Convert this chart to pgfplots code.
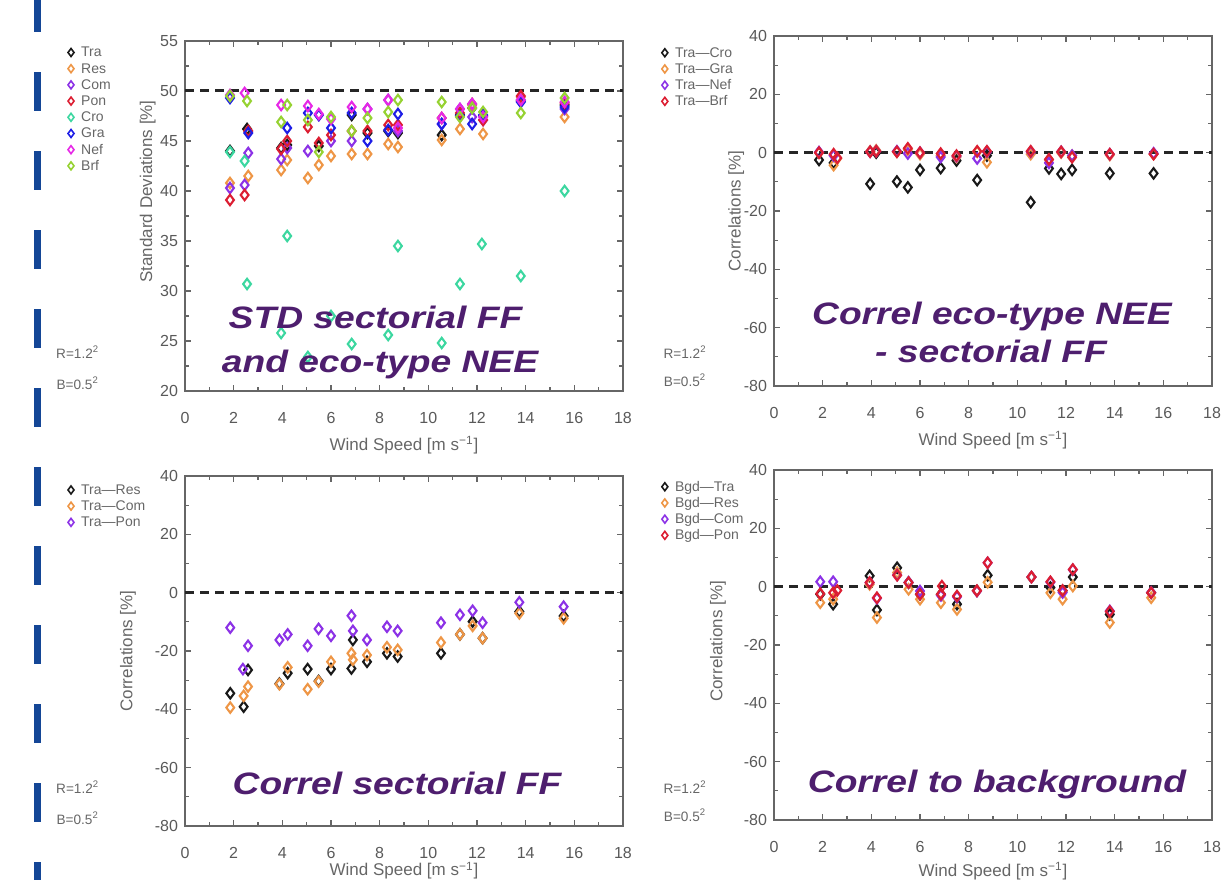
\documentclass[border=0pt]{standalone}
\usepackage{fontspec}
\setmainfont{Liberation Sans}
\usepackage{pgfplots}
\pgfplotsset{compat=1.18}
\definecolor{cTra}{RGB}{25,25,25}
\definecolor{cRes}{RGB}{238,150,70}
\definecolor{cCom}{RGB}{140,50,230}
\definecolor{cPon}{RGB}{220,30,50}
\definecolor{cCro}{RGB}{60,215,160}
\definecolor{cGra}{RGB}{30,30,230}
\definecolor{cNef}{RGB}{230,40,230}
\definecolor{cBrf}{RGB}{150,210,50}
\definecolor{ovl}{RGB}{78,30,110}
\definecolor{barblue}{RGB}{20,70,150}
\tikzset{rb/.style={font=\fontsize{6.8}{7}\selectfont, text=black!60},
  ovcap/.style={anchor=base, font=\fontsize{15.5}{16}\selectfont\bfseries\itshape, text=ovl, xscale=1.2, inner sep=0pt}}
\pgfplotsset{
  panel/.style={
    scale only axis, width=219pt, height=175pt, anchor=south west, clip=false,
    xmin=0, xmax=18, xtick={0,2,...,18}, minor x tick num=1, minor y tick num=1,
    tick align=inside, tick pos=both,
    axis line style={draw=black!60, line width=0.7pt},
    every tick/.style={black!60, line width=0.6pt},
    major tick length=3pt, minor tick length=1.8pt,
    tick label style={font=\fontsize{8}{9}\selectfont, text=black!65},
    /pgf/number format/assume math mode=true,
    xticklabel style={yshift=-7pt},
    label style={font=\fontsize{8.5}{9}\selectfont, text=black!60},
    xlabel={Wind Speed [m s\textsuperscript{−1}]},
    xlabel style={at={(axis description cs:0.5,-0.155)}, anchor=center},
    legend style={draw=none, fill=none, font=\fontsize{7}{8}\selectfont, text=black!60, anchor=north west, row sep=0.5pt, inner sep=0pt,
      nodes={inner sep=0.6pt, text height=5.4pt, text depth=1pt},
      /tikz/every odd column/.append style={column sep=3pt}},
    legend cell align=left,
    legend image code/.code={\draw[#1, mark size=2pt, line width=0.8pt] plot coordinates {(0pt,0pt)};},
  },
  mk/.style={only marks, mark=diamond, mark size=2.6pt, line width=1.05pt, mark options={fill=white, draw=#1, solid}},
  zline/.style={black!85, line width=1.5pt, dash pattern=on 4.5pt off 3pt, forget plot},
  corr/.style={ymin=-80, ymax=40, ytick={-80,-60,...,40}, ylabel={Correlations [\%]}},
}
\begin{document}
\begin{tikzpicture}
\path[use as bounding box] (0,0) rectangle (611pt,439.5pt);
\foreach \k in {0,...,11} {\fill[barblue] (17pt,{443pt-39.5pt*\k}) rectangle (20.5pt,{423.5pt-39.5pt*\k});}

% ---------- Panel 1 ----------
\begin{axis}[panel, at={(92.5pt,244pt)}, ymin=20, ymax=55, ytick={20,25,...,55},
  ylabel={Standard Deviations [\%]}, ylabel style={at={(axis description cs:-0.085,0.57)}, anchor=center},
  legend style={at={(-0.268,0.99)}}]
\addplot[zline] coordinates {(0,50) (18,50)};
\addplot[mk=cTra] coordinates {(1.85,44.0) (2.55,46.2) (3.95,44.3) (4.2,44.6) (5.5,44.5) (6.85,47.6) (7.5,45.8) (8.35,46.0) (8.75,45.8) (10.55,45.6) (11.3,47.6) (11.8,48.3) (12.25,47.5) (13.8,49.0) (15.6,48.6)};
\addlegendentry{Tra}
\addplot[mk=cRes] coordinates {(1.85,40.8) (2.6,41.5) (3.95,42.1) (4.2,43.1) (5.05,41.3) (5.5,42.6) (6.0,43.5) (6.85,43.7) (7.5,43.7) (8.35,44.7) (8.75,44.4) (10.55,45.1) (11.3,46.2) (11.8,48.6) (12.25,45.7) (13.8,49.4) (15.6,47.4)};
\addlegendentry{Res}
\addplot[mk=cCom] coordinates {(1.85,40.3) (2.45,40.6) (2.6,43.8) (3.95,43.2) (4.2,44.3) (5.05,44.0) (5.5,47.6) (6.0,45.0) (6.85,45.0) (7.5,48.2) (8.35,49.1) (8.75,46.0) (10.55,46.7) (11.3,48.2) (11.8,47.4) (12.25,47.1) (13.8,49.1) (15.6,48.2)};
\addlegendentry{Com}
\addplot[mk=cPon] coordinates {(1.85,39.1) (2.45,39.6) (2.6,46.0) (3.95,44.2) (4.2,45.0) (5.05,46.4) (5.5,44.8) (6.0,45.6) (6.85,46.0) (7.5,46.0) (8.35,46.6) (8.75,46.6) (10.55,47.3) (11.3,47.8) (11.8,48.7) (12.25,47.1) (13.8,49.5) (15.6,48.8)};
\addlegendentry{Pon}
\addplot[mk=cCro] coordinates {(1.85,43.9) (2.45,43.0) (2.55,30.7) (3.95,25.8) (4.2,35.5) (5.05,23.4) (6.0,27.5) (6.85,24.7) (8.35,25.6) (8.75,34.5) (10.55,24.8) (11.3,30.7) (12.2,34.7) (13.8,31.5) (15.6,40.0)};
\addlegendentry{Cro}
\addplot[mk=cGra] coordinates {(1.85,49.3) (2.6,45.8) (4.2,46.3) (5.05,47.8) (5.5,47.6) (6.0,46.3) (6.85,47.8) (7.5,45.0) (8.35,46.1) (8.75,47.7) (10.55,46.7) (11.3,47.5) (11.8,46.7) (12.25,47.6) (13.8,48.9) (15.6,48.4)};
\addlegendentry{Gra}
\addplot[mk=cNef] coordinates {(1.85,49.6) (2.45,49.8) (3.95,48.6) (5.05,48.5) (5.5,47.7) (6.0,47.2) (6.85,48.4) (7.5,48.2) (8.35,49.1) (8.75,46.3) (10.55,47.3) (11.3,48.2) (11.8,48.7) (12.25,47.4) (13.8,49.1) (15.6,48.9)};
\addlegendentry{Nef}
\addplot[mk=cBrf] coordinates {(1.85,49.5) (2.55,49.0) (3.95,46.9) (4.2,48.6) (5.05,47.1) (5.5,43.9) (6.0,47.4) (6.85,46.0) (7.5,47.3) (8.35,47.9) (8.75,49.1) (10.55,48.9) (11.3,47.4) (11.8,48.3) (12.25,47.9) (13.8,47.8) (15.6,49.3)};
\addlegendentry{Brf}
\node[rb] at (rel axis cs:-0.245,0.111) {R=1.2\textsuperscript{2}};
\node[rb] at (rel axis cs:-0.245,0.023) {B=0.5\textsuperscript{2}};
\end{axis}

% ---------- Panel 2 ----------
\begin{axis}[panel, corr, at={(387pt,246.5pt)},
  ylabel style={at={(axis description cs:-0.086,0.5)}, anchor=center},
  legend style={at={(-0.257,0.975)}}]
\addplot[zline] coordinates {(0,0) (18,0)};
\addplot[mk=cTra] coordinates {(1.85,-2.5) (2.45,-3.5) (3.95,-10.7) (4.2,0) (5.05,-9.9) (5.5,-11.9) (6.0,-5.9) (6.85,-5.3) (7.5,-2.7) (8.35,-9.4) (8.75,-1.0) (10.55,-17.0) (11.3,-5.4) (11.8,-7.3) (12.25,-5.9) (13.8,-7.1) (15.6,-7.1)};
\addlegendentry{Tra---Cro}
\addplot[mk=cRes] coordinates {(1.85,0) (2.45,-4.3) (2.6,-2.0) (3.95,0.5) (4.2,0.8) (5.05,0.3) (5.5,1.0) (6.0,-0.5) (6.85,-1.0) (7.5,-1.5) (8.35,0.3) (8.75,-3.3) (10.55,-0.5) (11.3,-2.5) (11.8,0) (12.25,-1.0) (13.8,-0.8) (15.6,-0.5)};
\addlegendentry{Tra---Gra}
\addplot[mk=cCom] coordinates {(1.85,0.2) (2.45,-1.0) (3.95,0.3) (4.2,0.5) (5.05,0.5) (5.5,-0.3) (6.0,0) (6.85,-1.5) (7.5,-1.2) (8.35,-2.0) (8.75,0.3) (10.55,0.3) (11.3,-3.5) (11.8,0.3) (12.25,-1.0) (13.8,-0.5) (15.6,-0.2)};
\addlegendentry{Tra---Nef}
\addplot[mk=cPon] coordinates {(1.85,0) (2.45,-0.5) (2.6,-1.8) (3.95,0.3) (4.2,0.5) (5.05,0.3) (5.5,1.5) (6.0,0) (6.85,-0.3) (7.5,-1.0) (8.35,0.5) (8.75,0.5) (10.55,0.5) (11.3,-2.3) (11.8,0.3) (12.25,-1.6) (13.8,-0.5) (15.6,-0.5)};
\addlegendentry{Tra---Brf}
\node[rb] at (rel axis cs:-0.203,0.097) {R=1.2\textsuperscript{2}};
\node[rb] at (rel axis cs:-0.203,0.017) {B=0.5\textsuperscript{2}};
\end{axis}

% ---------- Panel 3 ----------
\begin{axis}[panel, corr, at={(92.5pt,26.5pt)},
  xlabel style={at={(axis description cs:0.5,-0.128)}},
  ylabel style={at={(axis description cs:-0.13,0.5)}, anchor=center},
  legend style={at={(-0.268,0.983)}}]
\addplot[zline] coordinates {(0,0) (18,0)};
\addplot[mk=cTra] coordinates {(1.86,-34.5) (2.41,-39.1) (2.59,-26.5) (3.88,-31.2) (4.22,-27.6) (5.04,-26.2) (5.49,-30.3) (6.0,-26.2) (6.84,-26.0) (6.9,-16.2) (7.48,-23.7) (8.3,-20.8) (8.74,-21.9) (10.52,-20.8) (11.3,-14.3) (11.82,-9.9) (12.23,-15.6) (13.74,-6.5) (15.56,-8.0)};
\addlegendentry{Tra---Res}
\addplot[mk=cRes] coordinates {(1.86,-39.4) (2.41,-35.4) (2.59,-32.2) (3.88,-31.4) (4.22,-25.6) (5.04,-33.1) (5.49,-30.5) (6.0,-23.7) (6.84,-20.8) (6.9,-23.0) (7.48,-21.4) (8.3,-18.7) (8.74,-19.6) (10.52,-17.1) (11.3,-14.3) (11.82,-11.4) (12.23,-15.6) (13.74,-7.1) (15.56,-8.8)};
\addlegendentry{Tra---Com}
\addplot[mk=cCom] coordinates {(1.86,-12.0) (2.38,-26.2) (2.59,-18.2) (3.88,-16.2) (4.22,-14.3) (5.04,-18.2) (5.49,-12.4) (6.0,-14.8) (6.84,-7.9) (6.9,-13.1) (7.48,-16.2) (8.3,-11.7) (8.74,-13.1) (10.52,-10.3) (11.3,-7.6) (11.82,-6.2) (12.23,-10.3) (13.74,-3.3) (15.56,-4.8)};
\addlegendentry{Tra---Pon}
\node[rb] at (rel axis cs:-0.245,0.111) {R=1.2\textsuperscript{2}};
\node[rb] at (rel axis cs:-0.245,0.023) {B=0.5\textsuperscript{2}};
\end{axis}

% ---------- Panel 4 ----------
\begin{axis}[panel, corr, at={(387pt,29.5pt)},
  xlabel style={at={(axis description cs:0.5,-0.146)}},
  ylabel style={at={(axis description cs:-0.128,0.51)}, anchor=center},
  legend style={at={(-0.257,0.975)}}]
\addplot[zline] coordinates {(0,0) (18,0)};
\addplot[mk=cTra] coordinates {(1.9,-2.6) (2.43,-6.0) (3.93,3.7) (4.23,-8.0) (5.06,6.5) (5.53,1.4) (6.0,-2.6) (6.86,-2.6) (7.52,-6.0) (8.34,-1.4) (8.78,3.9) (10.58,3.3) (11.36,-0.3) (11.86,-1.4) (12.28,3.3) (13.8,-9.5) (15.5,-2.1)};
\addlegendentry{Bgd---Tra}
\addplot[mk=cRes] coordinates {(1.9,-5.5) (2.43,-4.3) (3.93,0.8) (4.23,-10.6) (5.06,4.8) (5.53,-0.9) (6.0,-4.3) (6.86,-5.5) (7.52,-7.8) (8.34,-1.4) (8.78,1.5) (10.58,3.3) (11.36,-2.1) (11.86,-4.3) (12.28,0.2) (13.8,-12.3) (15.5,-3.8)};
\addlegendentry{Bgd---Res}
\addplot[mk=cCom] coordinates {(1.9,1.7) (2.43,1.7) (3.93,1.4) (4.23,-4.0) (5.06,4.0) (5.53,1.5) (6.0,-1.5) (6.86,-3.0) (7.52,-3.5) (8.34,-1.5) (8.78,8.2) (10.58,3.3) (11.36,1.5) (11.86,-2.0) (12.28,5.8) (13.8,-8.3) (15.5,-2.0)};
\addlegendentry{Bgd---Com}
\addplot[mk=cPon] coordinates {(1.9,-2.4) (2.43,-2.1) (2.6,-1.3) (3.93,1.4) (4.23,-3.8) (5.06,3.9) (5.53,1.4) (6.0,-2.6) (6.86,-2.6) (6.9,0.2) (7.52,-3.2) (8.34,-1.4) (8.78,8.2) (10.58,3.3) (11.36,1.7) (11.86,-1.3) (12.28,5.9) (13.8,-8.5) (15.5,-2.1)};
\addlegendentry{Bgd---Pon}
\node[rb] at (rel axis cs:-0.203,0.094) {R=1.2\textsuperscript{2}};
\node[rb] at (rel axis cs:-0.203,0.014) {B=0.5\textsuperscript{2}};
\end{axis}

% ---------- overlay captions ----------
\node[ovcap] at (187.75pt,275pt) {STD sectorial FF};
\node[ovcap] at (190pt,253pt) {and eco-type NEE};
\node[ovcap] at (496pt,277pt) {Correl eco-type NEE};
\node[ovcap] at (495.5pt,258pt) {- sectorial FF};
\node[ovcap] at (198.5pt,42pt) {Correl sectorial FF};
\node[ovcap] at (498.5pt,43pt) {Correl to background};
\end{tikzpicture}
\end{document}
